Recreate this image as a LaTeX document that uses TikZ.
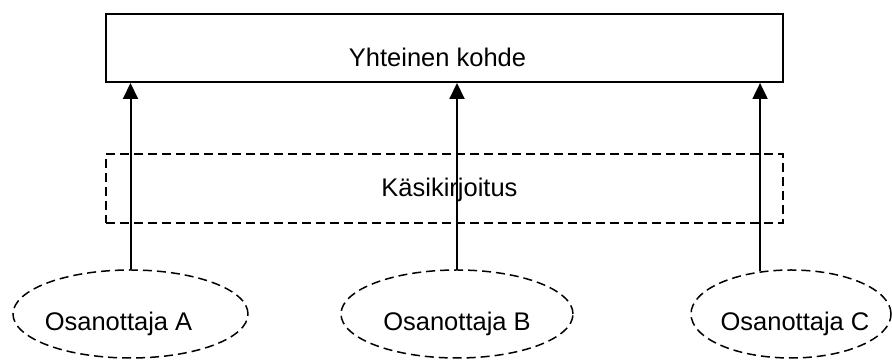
\documentclass[tikz,border=0pt]{standalone}
\usepackage{fontspec}
\setmainfont{Liberation Sans}
\usetikzlibrary{shapes.geometric,arrows.meta}

\tikzset{
 kohde/.style={draw, line width=2pt, minimum width=677pt, minimum height=68pt},
 kasik/.style={draw, line width=1.5pt, dash pattern=on 9pt off 5pt, minimum width=677pt, minimum height=69pt},
 osa/.style={ellipse, draw, line width=1.5pt, dash pattern=on 9pt off 5pt, minimum height=88pt},
 nuoli/.style={line width=2pt, -{Triangle[length=16pt,width=15pt]}},
}

\begin{document}
\begin{tikzpicture}[x=1pt, y=1pt, font=\fontsize{25.5}{30}\selectfont]
 \useasboundingbox (0,0) rectangle (892,363);
 % boxes
 \node [kohde, label={[xshift=-7pt, yshift=-9pt]center:Yhteinen kohde}] (kohde) at (444.5,315) {};
 \node [kasik, label={[xshift=5pt, yshift=-1pt]center:Käsikirjoitus}] (kasik) at (444.5,174.5) {};
 % participants
 \node [osa, minimum width=235pt, label={[xshift=-12pt, yshift=-10pt]center:Osanottaja A}] (osaA) at (130.5,49) {};
 \node [osa, minimum width=232pt, label={[yshift=-10pt]center:Osanottaja B}] (osaB) at (457,49) {};
 \node [osa, minimum width=200pt, label={[xshift=4pt, yshift=-10pt]center:Osanottaja C}] (osaC) at (791,49) {};
 % arrows up to the common object
 \draw [nuoli] (osaA.north) -- (osaA.north |- kohde.south);
 \draw [nuoli] (osaB.north) -- (osaB.north |- kohde.south);
 \draw [nuoli] (osaC.126) -- (osaC.126 |- kohde.south);
\end{tikzpicture}
\end{document}
